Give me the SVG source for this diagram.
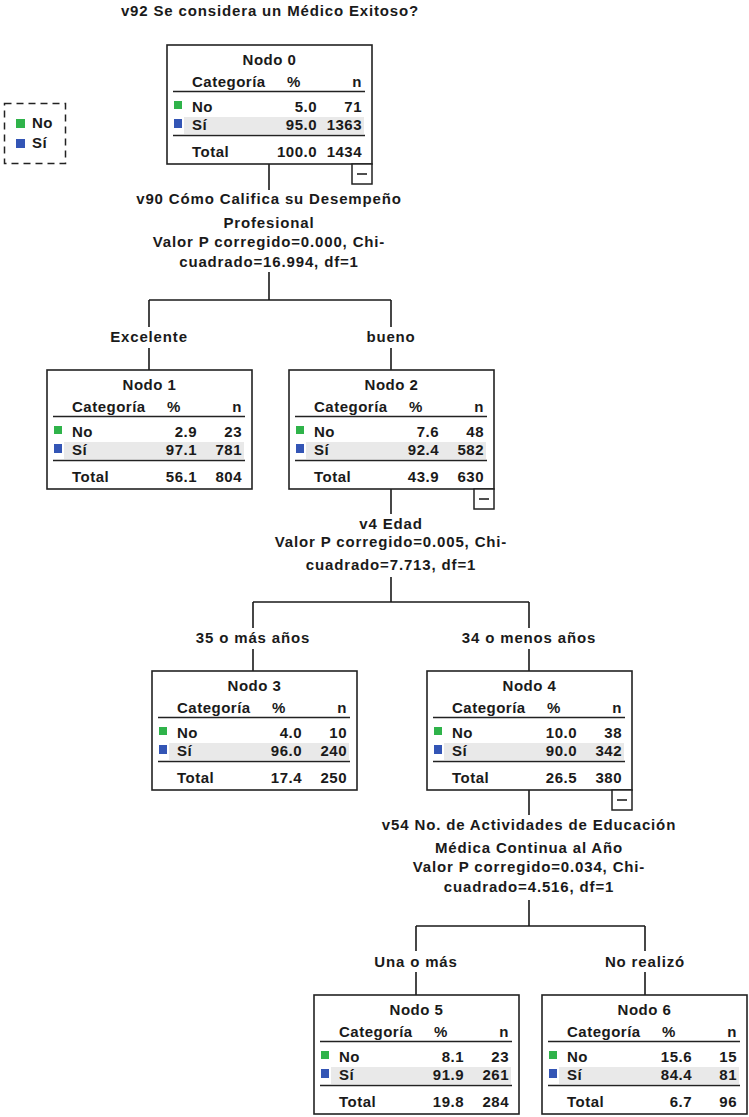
<svg xmlns="http://www.w3.org/2000/svg" width="749" height="1117" viewBox="0 0 749 1117">
<style>
.t{font-family:"Liberation Sans",Arial,sans-serif;font-size:15px;font-weight:bold;letter-spacing:0.5px;fill:#1a1a1a}
.s{letter-spacing:0.85px}
.m{text-anchor:middle}
.e{text-anchor:end}
.box{fill:#fff;stroke:#222;stroke-width:1.6}
.rule{stroke:#222;stroke-width:1.6}
.band{fill:#e9e9e9}
.g{fill:#2fb34a}
.b{fill:#3355b5}
.c{stroke:#1a1a1a;stroke-width:1.6;fill:none}
.mb{fill:#fff;stroke:#222;stroke-width:1.5}
</style>
<rect width="749" height="1117" fill="#fff"/>
<text class="t s m" x="270" y="16">v92 Se considera un Médico Exitoso?</text>
<g id="legend">
<rect x="4.5" y="103.5" width="61" height="60" fill="none" stroke="#222" stroke-width="1.5" stroke-dasharray="7,5"/>
<rect class="g" x="16" y="119" width="9" height="9"/>
<text class="t" x="32" y="128">No</text>
<rect class="b" x="16" y="139" width="9" height="9"/>
<text class="t" x="32" y="148">Sí</text>
</g>
<g id="connectors">
<path class="c" d="M269,164V190M269,272V300M149,300H391M149,300V327M149,348V370M391,300V327M391,348V370"/>
<path class="c" d="M391,489V514M391,577V602M253,602H529M253,602V628M253,649V671M529,602V628M529,649V671"/>
<path class="c" d="M529,789V815M529,900V926M416,926H645M416,926V951M416,972V995M645,926V951M645,972V995"/>
<text class="t s m" x="269" y="204">v90 Cómo Califica su Desempeño</text>
<text class="t s m" x="269" y="228">Profesional</text>
<text class="t s m" x="269" y="247">Valor P corregido=0.000, Chi-</text>
<text class="t s m" x="269" y="267">cuadrado=16.994, df=1</text>
<text class="t s m" x="149" y="342">Excelente</text>
<text class="t s m" x="391" y="342">bueno</text>
<text class="t s m" x="391" y="529">v4 Edad</text>
<text class="t s m" x="391" y="547">Valor P corregido=0.005, Chi-</text>
<text class="t s m" x="391" y="570">cuadrado=7.713, df=1</text>
<text class="t s m" x="253" y="643">35 o más años</text>
<text class="t s m" x="529" y="643">34 o menos años</text>
<text class="t s m" x="529" y="830">v54 No. de Actividades de Educación</text>
<text class="t s m" x="529" y="853">Médica Continua al Año</text>
<text class="t s m" x="529" y="872">Valor P corregido=0.034, Chi-</text>
<text class="t s m" x="529" y="892">cuadrado=4.516, df=1</text>
<text class="t s m" x="416" y="967">Una o más</text>
<text class="t s m" x="645" y="967">No realizó</text>
</g>
<g id="node0" transform="translate(167,45)">
<rect class="box" width="205" height="119"/>
<text class="t m" x="102.5" y="20">Nodo 0</text>
<text class="t" x="25" y="42">Categoría</text><text class="t m" x="127" y="42">%</text><text class="t e" x="195" y="42">n</text>
<line class="rule" x1="6" y1="46.5" x2="198" y2="46.5"/>
<rect class="g" x="7" y="56" width="8" height="8"/>
<text class="t" x="25" y="67">No</text><text class="t e" x="150" y="67">5.0</text><text class="t e" x="195" y="67">71</text>
<rect class="band" x="17" y="72" width="180" height="17"/>
<rect class="b" x="7" y="74" width="8" height="9"/>
<text class="t" x="25" y="85">Sí</text><text class="t e" x="150" y="85">95.0</text><text class="t e" x="195" y="85">1363</text>
<line class="rule" x1="6" y1="90.5" x2="198" y2="90.5"/>
<text class="t" x="25" y="112">Total</text><text class="t e" x="150" y="112">100.0</text><text class="t e" x="195" y="112">1434</text>
<rect class="mb" x="185" y="119" width="20" height="20"/><line class="rule" x1="190" y1="129" x2="200" y2="129"/>
</g>
<g id="node1" transform="translate(47,370)">
<rect class="box" width="205" height="119"/>
<text class="t m" x="102.5" y="20">Nodo 1</text>
<text class="t" x="25" y="42">Categoría</text><text class="t m" x="127" y="42">%</text><text class="t e" x="195" y="42">n</text>
<line class="rule" x1="6" y1="46.5" x2="198" y2="46.5"/>
<rect class="g" x="7" y="56" width="8" height="8"/>
<text class="t" x="25" y="67">No</text><text class="t e" x="150" y="67">2.9</text><text class="t e" x="195" y="67">23</text>
<rect class="band" x="17" y="72" width="180" height="17"/>
<rect class="b" x="7" y="74" width="8" height="9"/>
<text class="t" x="25" y="85">Sí</text><text class="t e" x="150" y="85">97.1</text><text class="t e" x="195" y="85">781</text>
<line class="rule" x1="6" y1="90.5" x2="198" y2="90.5"/>
<text class="t" x="25" y="112">Total</text><text class="t e" x="150" y="112">56.1</text><text class="t e" x="195" y="112">804</text>
</g>
<g id="node2" transform="translate(289,370)">
<rect class="box" width="205" height="119"/>
<text class="t m" x="102.5" y="20">Nodo 2</text>
<text class="t" x="25" y="42">Categoría</text><text class="t m" x="127" y="42">%</text><text class="t e" x="195" y="42">n</text>
<line class="rule" x1="6" y1="46.5" x2="198" y2="46.5"/>
<rect class="g" x="7" y="56" width="8" height="8"/>
<text class="t" x="25" y="67">No</text><text class="t e" x="150" y="67">7.6</text><text class="t e" x="195" y="67">48</text>
<rect class="band" x="17" y="72" width="180" height="17"/>
<rect class="b" x="7" y="74" width="8" height="9"/>
<text class="t" x="25" y="85">Sí</text><text class="t e" x="150" y="85">92.4</text><text class="t e" x="195" y="85">582</text>
<line class="rule" x1="6" y1="90.5" x2="198" y2="90.5"/>
<text class="t" x="25" y="112">Total</text><text class="t e" x="150" y="112">43.9</text><text class="t e" x="195" y="112">630</text>
<rect class="mb" x="185" y="119" width="20" height="20"/><line class="rule" x1="190" y1="129" x2="200" y2="129"/>
</g>
<g id="node3" transform="translate(152,671)">
<rect class="box" width="205" height="119"/>
<text class="t m" x="102.5" y="20">Nodo 3</text>
<text class="t" x="25" y="42">Categoría</text><text class="t m" x="127" y="42">%</text><text class="t e" x="195" y="42">n</text>
<line class="rule" x1="6" y1="46.5" x2="198" y2="46.5"/>
<rect class="g" x="7" y="56" width="8" height="8"/>
<text class="t" x="25" y="67">No</text><text class="t e" x="150" y="67">4.0</text><text class="t e" x="195" y="67">10</text>
<rect class="band" x="17" y="72" width="180" height="17"/>
<rect class="b" x="7" y="74" width="8" height="9"/>
<text class="t" x="25" y="85">Sí</text><text class="t e" x="150" y="85">96.0</text><text class="t e" x="195" y="85">240</text>
<line class="rule" x1="6" y1="90.5" x2="198" y2="90.5"/>
<text class="t" x="25" y="112">Total</text><text class="t e" x="150" y="112">17.4</text><text class="t e" x="195" y="112">250</text>
</g>
<g id="node4" transform="translate(427,671)">
<rect class="box" width="205" height="119"/>
<text class="t m" x="102.5" y="20">Nodo 4</text>
<text class="t" x="25" y="42">Categoría</text><text class="t m" x="127" y="42">%</text><text class="t e" x="195" y="42">n</text>
<line class="rule" x1="6" y1="46.5" x2="198" y2="46.5"/>
<rect class="g" x="7" y="56" width="8" height="8"/>
<text class="t" x="25" y="67">No</text><text class="t e" x="150" y="67">10.0</text><text class="t e" x="195" y="67">38</text>
<rect class="band" x="17" y="72" width="180" height="17"/>
<rect class="b" x="7" y="74" width="8" height="9"/>
<text class="t" x="25" y="85">Sí</text><text class="t e" x="150" y="85">90.0</text><text class="t e" x="195" y="85">342</text>
<line class="rule" x1="6" y1="90.5" x2="198" y2="90.5"/>
<text class="t" x="25" y="112">Total</text><text class="t e" x="150" y="112">26.5</text><text class="t e" x="195" y="112">380</text>
<rect class="mb" x="185" y="119" width="20" height="20"/><line class="rule" x1="190" y1="129" x2="200" y2="129"/>
</g>
<g id="node5" transform="translate(314,995)">
<rect class="box" width="205" height="119"/>
<text class="t m" x="102.5" y="20">Nodo 5</text>
<text class="t" x="25" y="42">Categoría</text><text class="t m" x="127" y="42">%</text><text class="t e" x="195" y="42">n</text>
<line class="rule" x1="6" y1="46.5" x2="198" y2="46.5"/>
<rect class="g" x="7" y="56" width="8" height="8"/>
<text class="t" x="25" y="67">No</text><text class="t e" x="150" y="67">8.1</text><text class="t e" x="195" y="67">23</text>
<rect class="band" x="17" y="72" width="180" height="17"/>
<rect class="b" x="7" y="74" width="8" height="9"/>
<text class="t" x="25" y="85">Sí</text><text class="t e" x="150" y="85">91.9</text><text class="t e" x="195" y="85">261</text>
<line class="rule" x1="6" y1="90.5" x2="198" y2="90.5"/>
<text class="t" x="25" y="112">Total</text><text class="t e" x="150" y="112">19.8</text><text class="t e" x="195" y="112">284</text>
</g>
<g id="node6" transform="translate(542,995)">
<rect class="box" width="205" height="119"/>
<text class="t m" x="102.5" y="20">Nodo 6</text>
<text class="t" x="25" y="42">Categoría</text><text class="t m" x="127" y="42">%</text><text class="t e" x="195" y="42">n</text>
<line class="rule" x1="6" y1="46.5" x2="198" y2="46.5"/>
<rect class="g" x="7" y="56" width="8" height="8"/>
<text class="t" x="25" y="67">No</text><text class="t e" x="150" y="67">15.6</text><text class="t e" x="195" y="67">15</text>
<rect class="band" x="17" y="72" width="180" height="17"/>
<rect class="b" x="7" y="74" width="8" height="9"/>
<text class="t" x="25" y="85">Sí</text><text class="t e" x="150" y="85">84.4</text><text class="t e" x="195" y="85">81</text>
<line class="rule" x1="6" y1="90.5" x2="198" y2="90.5"/>
<text class="t" x="25" y="112">Total</text><text class="t e" x="150" y="112">6.7</text><text class="t e" x="195" y="112">96</text>
</g>
</svg>
